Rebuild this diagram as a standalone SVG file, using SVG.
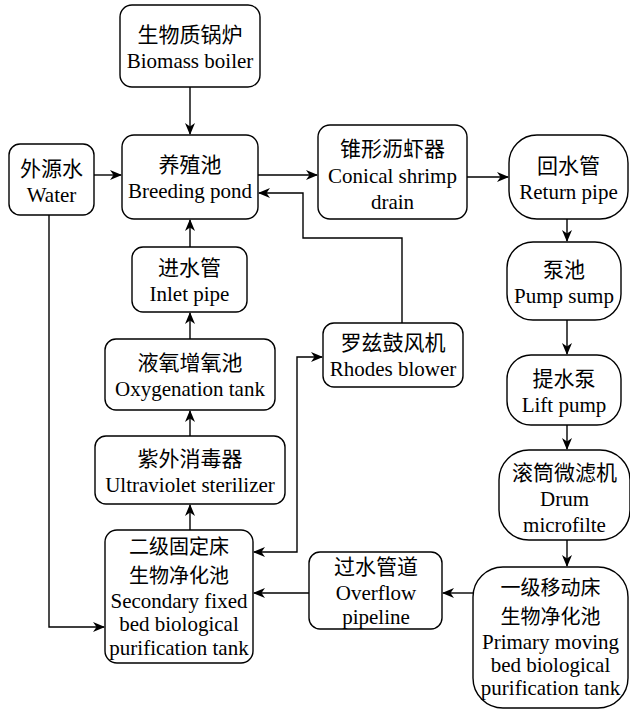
<svg xmlns="http://www.w3.org/2000/svg" width="630" height="710" viewBox="0 0 630 710">
<style>
.b{fill:#fff;stroke:#000;stroke-width:1.4}
.t{font-size:21px;fill:#000;text-anchor:middle}
.z{font-size:21px;fill:#000;text-anchor:middle}
.s{font-size:20px;fill:#000;text-anchor:middle}
.c{fill:none;stroke:#000;stroke-width:1.4}
</style>
<defs>
<marker id="ah" markerWidth="12" markerHeight="10" refX="11" refY="5" orient="auto-start-reverse" markerUnits="userSpaceOnUse">
<path d="M0,0 L12,5 L0,10 L3.5,5 z" fill="#000"/>
</marker>
</defs>
<rect width="630" height="710" fill="#fff"/>
<g id="connectors">
<path class="c" d="M190,87 V134" marker-end="url(#ah)"/>
<path class="c" d="M94,175 H121" marker-end="url(#ah)"/>
<path class="c" d="M258,175 H317" marker-end="url(#ah)"/>
<path class="c" d="M467,177 H508" marker-end="url(#ah)"/>
<path class="c" d="M567,219 V241" marker-end="url(#ah)"/>
<path class="c" d="M567,320 V354" marker-end="url(#ah)"/>
<path class="c" d="M567,425 V449" marker-end="url(#ah)"/>
<path class="c" d="M567,540 V566" marker-end="url(#ah)"/>
<path class="c" d="M473,593 H443" marker-end="url(#ah)"/>
<path class="c" d="M309,593 H254" marker-end="url(#ah)"/>
<path class="c" d="M190,530 V505" marker-end="url(#ah)"/>
<path class="c" d="M190,436 V411" marker-end="url(#ah)"/>
<path class="c" d="M190,339 V313" marker-end="url(#ah)"/>
<path class="c" d="M190,247 V220" marker-end="url(#ah)"/>
<path class="c" d="M402,323 V238 H303 V193 H259" marker-end="url(#ah)"/>
<path class="c" d="M254,552 H297 V357 H322" marker-start="url(#ah)" marker-end="url(#ah)"/>
<path class="c" d="M49,215 V627 H104" marker-end="url(#ah)"/>
</g>
<g font-family="Liberation Serif, Noto Sans CJK SC, serif">
<g id="biomass"><rect class="b" x="120" y="5" width="140" height="82" rx="12"/><text class="z" x="190" y="42">生物质锅炉</text><text class="t" x="190" y="68">Biomass boiler</text></g>
<g id="water"><rect class="b" x="9" y="144" width="85" height="71" rx="11"/><text class="z" x="51.5" y="176">外源水</text><text class="t" x="51.5" y="202">Water</text></g>
<g id="breeding"><rect class="b" x="122" y="135" width="136" height="84" rx="12"/><text class="z" x="190" y="172">养殖池</text><text class="t" x="190" y="198">Breeding pond</text></g>
<g id="conical"><rect class="b" x="318" y="125" width="149" height="94" rx="12"/><text class="z" x="392.5" y="156">锥形沥虾器</text><text class="t" x="392.5" y="183">Conical shrimp</text><text class="t" x="392.5" y="209">drain</text></g>
<g id="return"><rect class="b" x="509" y="135" width="119" height="84" rx="28"/><text class="z" x="568.5" y="173">回水管</text><text class="t" x="568.5" y="199">Return pipe</text></g>
<g id="pump"><rect class="b" x="507" y="242" width="114" height="78" rx="26"/><text class="z" x="564" y="277">泵池</text><text class="t" x="564" y="303">Pump sump</text></g>
<g id="lift"><rect class="b" x="507" y="355" width="114" height="70" rx="24"/><text class="z" x="564" y="386">提水泵</text><text class="t" x="564" y="412">Lift pump</text></g>
<g id="drum"><rect class="b" x="499" y="450" width="131" height="90" rx="30"/><text class="z" x="564.5" y="480">滚筒微滤机</text><text class="t" x="564.5" y="506">Drum</text><text class="t" x="564.5" y="532">microfilte</text></g>
<g id="primary"><rect class="b" x="473" y="567" width="155" height="141" rx="30"/><text class="s" x="550.5" y="595">一级移动床</text><text class="s" x="550.5" y="624">生物净化池</text><text class="t" x="550.5" y="648.5">Primary moving</text><text class="t" x="550.5" y="671.8">bed biological</text><text class="t" x="550.5" y="695.1">purification tank</text></g>
<g id="overflow"><rect class="b" x="309" y="552" width="133" height="77" rx="11"/><text class="z" x="376" y="574">过水管道</text><text class="t" x="376" y="599.5">Overflow</text><text class="t" x="376" y="623.5">pipeline</text></g>
<g id="secondary"><rect class="b" x="105" y="530" width="148" height="133" rx="12"/><text class="s" x="179" y="554">二级固定床</text><text class="s" x="179" y="583">生物净化池</text><text class="t" x="179" y="608">Secondary fixed</text><text class="t" x="179" y="631.3">bed biological</text><text class="t" x="179" y="654.6">purification tank</text></g>
<g id="uv"><rect class="b" x="95" y="436" width="190" height="68" rx="11"/><text class="z" x="190" y="466">紫外消毒器</text><text class="t" x="190" y="492">Ultraviolet sterilizer</text></g>
<g id="oxygenation"><rect class="b" x="105" y="339" width="170" height="71" rx="11"/><text class="z" x="190" y="370">液氧增氧池</text><text class="t" x="190" y="396">Oxygenation tank</text></g>
<g id="inlet"><rect class="b" x="132" y="247" width="115" height="65" rx="11"/><text class="z" x="189.5" y="275">进水管</text><text class="t" x="189.5" y="301">Inlet pipe</text></g>
<g id="rhodes"><rect class="b" x="323" y="323" width="140" height="64" rx="11"/><text class="z" x="393" y="350">罗兹鼓风机</text><text class="t" x="393" y="376">Rhodes blower</text></g>
</g>
</svg>
